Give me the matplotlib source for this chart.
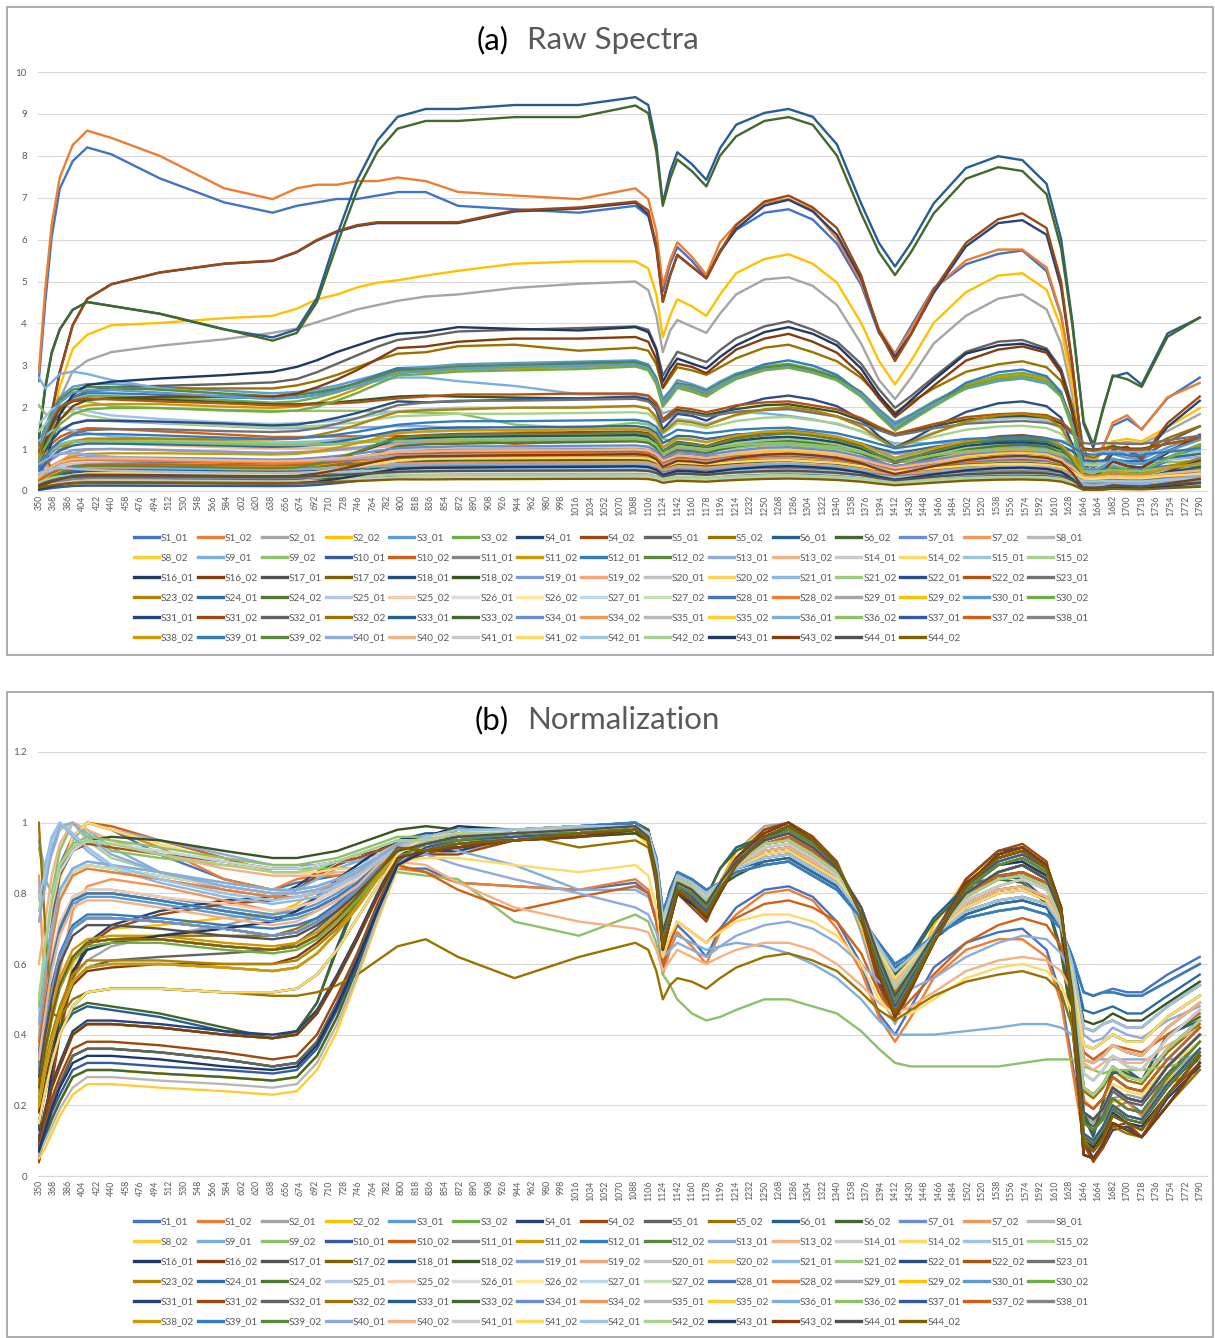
import matplotlib
matplotlib.use("Agg")
import matplotlib.pyplot as plt
from matplotlib.patches import Rectangle
from matplotlib.lines import Line2D

plt.rcParams['font.family'] = ['Lato', 'DejaVu Sans']

wavelengths = [350, 358, 366, 376, 392, 410, 440, 500, 580, 640, 670, 695, 720, 745, 770, 795,
               830, 870, 940, 1020, 1090, 1106, 1116, 1124, 1133, 1142, 1160, 1178, 1195, 1215,
               1250, 1280, 1310, 1340, 1370, 1392, 1412, 1432, 1460, 1500, 1540, 1570, 1600,
               1618, 1632, 1646, 1658, 1670, 1682, 1700, 1718, 1750, 1790]

names = [f"S{i}_{j:02d}" for i in range(1, 45) for j in (1, 2)]

# maximum of each raw spectrum (panel a)
peaks = [8.2, 8.6, 5.1, 5.65, 3.15, 3.1, 6.95, 7.05, 4.05, 3.6, 9.4, 9.2,
         1.35, 1.2, 0.85, 0.7, 2.85, 2.2, 1.0, 1.5, 0.55, 3.05, 3.15, 3.1,
         1.7, 1.2, 1.05, 0.8, 2.05, 1.9, 3.95, 3.75, 0.65, 0.5, 0.45, 2.3,
         1.25, 0.9, 0.6, 0.95, 1.5, 1.3, 2.3, 2.35, 2.2, 2.05, 1.55, 1.2,
         0.75, 0.55, 0.45, 0.4, 0.65, 0.5, 1.0, 0.85, 0.7, 0.6, 3.05, 3.0,
         1.35, 1.45, 0.9, 1.15, 0.8, 0.75, 1.1, 0.7, 0.5, 1.0, 0.65, 1.25,
         0.4, 0.95, 0.6, 1.5, 1.7, 1.4, 0.9, 1.0, 0.35, 0.8, 0.55, 0.4,
         0.6, 0.9, 0.5, 0.3]

# normalized spectra in percent of each series maximum (panel b)
norm = [
    [32,55,74,88,96,100,98,91,84,81,83,84,85,85,86,87, 87,83,82,81,83,80,72,58,66,71,67,62,70,76,81,82,79,72,60,46,40,48,59,66,69,70,64,51,32,12,8,13,19,21,18,27,33],
    [33,56,74,87,96,100,98,93,84,81,84,85,85,86,86,87, 86,83,82,81,84,81,72,57,64,69,65,60,69,74,80,81,78,70,58,45,38,45,56,64,67,67,62,49,30,10,7,12,19,21,17,26,30],
    [7,16,27,43,56,61,65,68,71,74,76,79,82,85,87,89, 91,92,95,97,98,94,82,65,75,80,77,74,83,92,99,100,96,87,69,52,43,53,69,82,90,92,85,69,45,17,15,18,22,23,22,28,36],
    [7,16,28,44,60,66,70,71,73,74,77,81,83,86,88,89, 91,93,96,97,97,94,83,65,74,81,78,74,83,92,98,100,96,88,71,55,45,55,71,84,91,92,85,69,44,16,13,17,21,22,21,27,35],
    [36,49,61,71,79,81,81,79,76,74,75,77,80,84,88,93, 94,96,97,98,99,96,86,70,76,84,81,77,83,89,94,96,92,86,75,62,52,58,68,80,85,86,83,74,53,21,19,22,28,25,24,33,42],
    [30,42,52,62,70,73,73,72,70,68,69,72,76,81,87,93, 93,95,96,97,99,96,85,67,74,82,79,75,82,89,96,98,94,88,75,60,48,56,67,82,89,91,87,75,50,12,10,14,20,17,16,26,36],
    [4,14,27,41,57,66,71,75,78,79,82,86,89,91,92,92, 92,92,96,97,99,95,83,65,74,81,77,73,82,90,98,100,96,88,73,55,46,54,68,84,92,93,88,70,43,10,5,8,13,14,11,22,31],
    [4,13,26,40,56,65,70,74,77,78,81,85,88,90,91,91, 91,91,95,96,98,95,83,64,73,80,76,72,81,90,98,100,96,89,73,54,44,53,68,84,92,94,89,71,43,9,4,8,14,15,11,23,32],
    [20,30,38,46,55,59,61,62,63,64,66,70,75,80,85,89, 91,94,95,96,97,95,84,68,75,82,79,76,83,90,97,100,95,88,75,60,49,56,67,82,88,89,84,72,50,16,14,17,24,21,20,29,38],
    [25,36,45,54,62,66,67,68,68,68,70,73,77,82,87,91, 92,96,97,93,95,93,84,68,75,82,80,77,82,88,95,97,92,86,75,63,52,59,68,79,84,86,82,73,56,24,22,25,30,27,26,35,43],
    [13,26,35,41,46,48,47,45,41,39,41,49,65,79,89,95, 97,97,98,98,100,98,88,73,81,86,83,79,87,93,96,97,95,88,73,63,57,63,73,82,85,84,78,64,43,17,11,21,29,30,27,40,44],
    [14,27,36,42,47,49,48,46,42,39,41,49,64,78,88,94, 96,96,97,97,100,98,88,74,81,86,83,79,87,92,96,97,95,87,72,62,56,62,72,81,84,83,77,63,43,18,12,21,30,29,27,40,45],
    [40,55,68,79,86,88,87,85,82,80,80,81,83,86,90,94, 95,97,97,98,99,97,88,72,78,85,83,79,83,88,92,93,89,85,75,64,55,61,68,77,81,82,79,72,57,33,32,34,37,35,34,42,49],
    [85,50,45,58,75,82,84,82,78,75,76,78,81,84,88,92, 96,97,98,99,99,97,88,72,78,85,83,80,83,87,91,92,88,84,74,64,56,61,68,76,80,81,78,71,58,37,36,38,40,38,38,45,51],
    [30,42,52,62,70,73,73,72,70,68,69,72,76,81,87,93, 96,98,98,99,99,97,89,73,79,85,83,80,83,87,90,91,87,83,74,65,58,62,68,75,78,79,77,71,60,42,41,43,44,42,42,48,54],
    [5,8,12,17,23,26,26,25,24,23,24,30,41,56,72,87, 93,95,96,97,99,96,85,67,74,82,79,75,82,89,96,98,94,88,75,60,48,56,67,82,89,91,87,75,50,12,10,14,20,17,16,26,36],
    [95,86,91,98,100,98,93,86,81,79,81,84,87,89,92,95, 95,92,88,81,81,79,74,65,67,68,66,64,65,66,65,63,60,56,50,44,40,40,40,41,42,43,43,42,40,35,33,33,33,33,33,33,34],
    [93,84,80,92,100,97,92,90,88,87,87,87,87,87,86,86, 85,84,72,68,74,72,66,57,54,50,46,44,45,47,50,50,48,46,41,36,32,31,31,31,31,32,33,33,33,31,30,29,30,30,30,31,33],
    [25,36,45,54,62,66,67,67,65,64,65,68,73,79,86,93, 94,95,97,97,99,96,85,68,75,82,80,76,82,89,95,98,94,87,75,61,50,57,67,81,88,90,86,74,51,15,13,16,22,19,18,28,38],
    [50,62,75,86,95,100,99,95,90,86,86,86,87,87,88,88, 86,81,75,79,82,80,72,60,66,72,69,66,70,73,77,78,76,72,63,52,45,50,57,66,71,73,71,65,53,35,33,35,37,36,35,40,46],
    [15,24,32,40,48,52,53,53,52,52,53,57,64,73,82,91, 95,97,97,98,99,96,87,70,77,84,82,78,83,88,94,95,91,86,75,63,53,59,68,79,84,85,82,73,55,25,23,26,31,28,27,36,44],
    [27,38,47,56,64,67,68,68,66,65,66,69,74,80,87,93, 93,95,96,97,99,96,85,67,74,82,79,75,82,89,96,98,94,88,75,60,48,56,67,82,89,91,87,75,50,12,10,14,20,17,16,26,36],
    [32,44,54,63,71,74,74,73,71,70,71,73,77,82,88,93, 92,94,95,97,98,95,84,65,73,81,78,74,81,88,96,99,95,88,74,58,46,54,66,82,90,92,87,75,49,9,7,11,17,15,13,23,34],
    [35,48,60,70,78,80,80,78,75,73,74,76,79,83,88,93, 94,96,97,98,99,96,86,69,76,83,81,77,83,89,95,97,93,87,76,62,51,58,68,80,86,88,84,74,52,18,16,19,25,22,21,31,40],
    [45,60,75,86,95,100,98,95,91,88,88,88,89,89,90,91, 91,88,84,80,76,74,69,62,64,66,64,62,65,68,71,72,70,66,60,55,52,53,56,62,66,68,67,63,56,40,38,39,42,40,39,44,48],
    [60,72,85,94,100,98,95,91,87,85,85,85,86,86,87,89, 88,83,76,72,70,69,64,58,61,64,62,60,62,64,66,66,64,60,54,49,46,48,52,58,61,62,61,58,52,32,30,32,34,32,32,37,42],
    [20,30,38,46,55,59,60,60,59,58,59,63,69,76,84,92, 94,96,97,98,99,96,86,69,76,83,81,77,83,89,95,97,93,87,76,62,51,58,68,80,86,88,84,74,52,18,16,19,25,22,21,31,40],
    [40,54,70,84,96,100,98,94,89,86,86,86,87,87,88,89, 90,90,88,86,88,85,76,62,68,72,69,66,69,72,74,74,72,68,60,50,45,46,50,56,59,60,58,54,46,22,19,22,26,24,23,31,38],
    [78,86,95,100,97,93,88,84,80,78,79,80,82,85,89,93, 95,97,97,98,99,96,87,70,77,84,82,78,83,88,94,95,91,86,75,63,53,59,68,79,84,85,82,73,55,25,23,26,31,28,27,36,44],
    [75,84,93,98,100,95,90,86,82,80,81,82,84,86,90,94, 95,97,97,98,99,97,88,72,78,85,83,79,83,88,92,93,89,85,75,64,55,61,68,77,81,82,79,72,57,33,32,34,37,35,34,42,49],
    [8,16,30,46,58,64,66,68,70,72,75,79,84,88,92,95, 96,99,98,97,99,96,85,66,74,80,77,74,81,88,96,99,95,88,74,58,46,55,67,83,88,89,85,72,48,10,8,12,18,15,14,23,34],
    [18,28,37,45,54,58,59,60,60,60,62,66,71,77,84,91, 92,95,97,97,98,95,84,66,74,81,79,75,82,90,97,100,95,88,74,59,47,55,67,83,90,92,88,75,49,11,9,13,19,16,15,25,35],
    [30,42,52,62,70,73,73,72,70,68,69,72,76,81,87,93, 96,97,98,99,99,97,88,72,78,85,83,80,83,87,91,92,88,84,74,64,56,61,68,76,80,81,78,71,58,37,36,38,40,38,38,45,51],
    [10,18,25,31,40,43,43,42,40,39,40,46,56,67,79,90, 94,96,97,98,99,96,86,69,76,83,81,77,83,89,95,97,93,87,76,62,51,58,68,80,86,88,84,74,52,18,16,19,25,22,21,31,40],
    [8,14,20,26,34,36,36,35,33,31,32,38,49,62,76,89, 92,93,95,96,98,95,84,64,72,80,78,73,80,88,96,99,95,88,74,57,45,53,66,82,91,93,88,76,48,6,5,9,15,13,11,20,32],
    [30,50,70,86,93,95,96,95,92,90,90,91,92,94,96,98, 99,98,97,96,97,95,88,72,78,84,82,79,82,85,89,90,86,82,73,65,58,62,67,74,77,78,76,70,60,44,43,44,46,44,44,49,55],
    [35,48,60,70,78,80,80,78,75,73,74,76,79,83,88,93, 95,97,98,98,99,97,87,71,77,84,82,79,83,88,93,94,90,85,75,63,54,60,68,78,82,84,81,73,56,29,27,30,34,31,30,39,47],
    [40,55,68,79,86,88,87,85,82,80,80,81,83,86,90,94, 94,96,97,98,99,96,86,69,76,83,81,77,83,89,95,97,93,87,76,62,51,58,68,80,86,88,84,74,52,18,16,19,25,22,21,31,40],
    [6,11,16,21,28,30,30,29,28,27,28,34,45,59,74,88, 95,97,97,98,99,96,87,70,77,84,82,78,83,88,94,95,91,86,75,63,53,59,68,79,84,85,82,73,55,25,23,26,31,28,27,36,44],
    [25,36,45,54,62,66,67,67,65,64,65,68,73,79,86,93, 95,97,97,98,99,97,88,72,78,85,83,79,83,88,92,93,89,85,75,64,55,61,68,77,81,82,79,72,57,33,32,34,37,35,34,42,49],
    [80,88,96,100,96,92,87,83,79,77,78,79,82,85,89,93, 94,96,97,98,99,96,86,69,76,83,81,77,83,89,95,97,93,87,76,62,51,58,68,80,86,88,84,74,52,18,16,19,25,22,21,31,40],
    [45,62,76,86,92,95,94,92,89,87,87,88,89,91,93,95, 95,97,97,98,99,96,87,70,77,84,82,78,83,88,94,95,91,86,75,63,53,59,68,79,84,85,82,73,55,25,23,26,31,28,27,36,44],
    [30,42,52,62,70,73,73,72,70,68,69,72,76,81,87,93, 92,93,95,96,98,95,84,64,72,80,78,73,80,88,96,99,95,88,74,57,45,53,66,82,91,93,88,76,48,6,5,9,15,13,11,20,32],
    [40,58,73,85,92,94,93,91,89,87,87,88,89,90,92,94, 96,98,98,99,99,97,89,73,79,85,83,80,83,87,90,91,87,83,74,65,58,62,68,75,78,79,77,71,60,42,41,43,44,42,42,48,54],
    [25,36,45,54,62,66,67,67,65,64,65,68,73,79,86,93, 96,98,98,99,100,97,90,75,80,86,84,81,83,86,88,89,85,81,73,66,60,63,68,73,75,76,74,70,62,52,51,52,52,51,51,55,60],
    [22,32,40,48,57,61,61,61,60,60,61,65,70,77,85,92, 94,95,97,97,99,96,85,68,75,82,80,76,82,89,95,98,94,87,75,61,50,57,67,81,88,90,86,74,51,15,13,16,22,19,18,28,38],
    [30,42,52,62,70,73,73,72,70,68,69,72,76,81,87,93, 96,98,98,99,100,97,89,74,79,85,84,80,83,87,89,90,86,82,73,65,59,62,68,74,77,78,76,70,61,47,46,47,48,46,46,51,57],
    [8,14,20,26,34,36,36,35,33,31,32,38,49,62,76,89, 93,94,96,97,99,96,85,66,74,81,79,75,82,89,96,99,95,88,75,59,47,55,67,82,90,92,88,76,50,11,9,13,19,16,15,25,35],
    [42,57,70,81,87,89,88,86,83,81,81,82,84,87,91,94, 95,97,97,98,99,97,88,72,78,85,83,79,83,88,92,93,89,85,75,64,55,61,68,77,81,82,79,72,57,33,32,34,37,35,34,42,49],
    [37,50,62,72,79,81,81,79,77,75,76,78,81,84,89,93, 95,97,97,98,99,96,87,70,77,84,82,78,83,88,94,95,91,86,75,63,53,59,68,79,84,85,82,73,55,25,23,26,31,28,27,36,44],
    [20,30,38,46,55,59,60,60,59,58,59,63,69,76,84,92, 96,98,98,99,99,97,89,73,79,85,83,80,83,87,90,91,87,83,74,65,58,62,68,75,78,79,77,71,60,42,41,43,44,42,42,48,54],
    [30,42,52,62,70,73,73,72,70,68,69,72,76,81,87,93, 94,96,97,98,99,96,86,70,76,84,81,77,83,89,94,96,92,86,75,62,52,58,68,80,85,86,83,74,53,21,19,22,28,25,24,33,42],
    [45,62,76,86,92,95,94,92,89,87,87,88,89,91,93,95, 95,97,97,98,99,97,88,72,78,85,83,79,83,88,92,93,89,85,75,64,55,61,68,77,81,82,79,72,57,33,32,34,37,35,34,42,49],
    [40,55,68,79,86,88,87,85,82,80,80,81,83,86,90,94, 95,97,98,98,99,97,87,71,77,84,82,79,83,88,93,94,90,85,75,63,54,60,68,78,82,84,81,73,56,29,27,30,34,31,30,39,47],
    [15,24,32,40,48,52,53,53,52,52,53,57,64,73,82,91, 96,98,98,99,100,97,90,75,80,86,84,81,83,86,88,89,85,81,73,66,60,63,68,73,75,76,74,70,62,52,51,52,53,52,52,57,62],
    [38,53,66,78,85,87,86,84,81,79,79,80,83,86,90,94, 94,96,97,98,99,96,86,69,76,83,81,77,83,89,95,97,93,87,76,62,51,58,68,80,86,88,84,74,52,18,16,19,25,22,21,31,40],
    [10,18,25,31,40,43,43,42,40,39,40,46,56,67,79,90, 96,98,98,99,100,97,90,75,80,86,84,81,83,86,88,89,85,81,73,66,60,63,68,73,75,76,74,70,62,52,51,52,52,51,51,55,60],
    [6,11,16,21,28,30,30,29,28,27,28,34,45,59,74,88, 92,93,95,96,98,95,84,64,72,80,78,73,80,88,96,99,95,88,74,57,45,53,66,82,91,93,88,76,48,6,5,9,15,13,11,20,32],
    [34,47,59,69,77,79,79,77,74,72,73,75,78,82,87,92, 94,96,97,98,99,96,86,69,76,83,81,77,83,89,95,97,93,87,76,62,51,58,68,80,86,88,84,74,52,18,16,19,25,22,21,31,40],
    [24,35,44,53,61,65,66,66,64,63,64,67,72,78,85,92, 93,95,96,97,99,96,85,67,74,82,79,75,82,89,96,98,94,88,75,60,48,56,67,82,89,91,87,75,50,12,10,14,20,17,16,26,36],
    [11,19,26,32,41,44,44,43,41,40,41,47,57,68,80,91, 94,96,97,98,99,96,86,70,76,84,81,77,83,89,94,96,92,86,75,62,52,58,68,80,85,86,83,74,53,21,19,22,28,25,24,33,42],
    [9,15,22,28,36,38,38,37,35,33,34,40,51,63,77,89, 92,94,95,97,98,95,84,65,73,81,78,74,81,88,96,99,95,88,74,58,46,54,66,82,90,92,87,75,49,9,7,11,17,15,13,23,34],
    [8,14,20,26,34,36,36,35,33,31,32,38,49,62,76,89, 95,97,97,98,99,96,87,70,77,84,82,78,83,88,94,95,91,86,75,63,53,59,68,79,84,85,82,73,55,25,23,26,31,28,27,36,44],
    [100,70,46,45,50,52,53,53,52,51,51,52,54,57,61,65, 67,62,56,62,66,64,58,50,54,56,55,53,56,59,62,63,61,58,52,47,44,47,51,55,57,58,56,52,42,10,7,10,14,12,11,20,30],
    [20,30,38,46,55,59,60,60,59,58,59,63,69,76,84,92, 95,97,97,98,99,97,88,72,78,85,83,79,83,88,92,93,89,85,75,64,55,61,68,77,81,82,79,72,57,33,32,34,37,35,34,42,49],
    [6,11,16,21,28,30,30,29,28,27,28,34,45,59,74,88, 94,96,97,98,99,96,86,69,76,83,81,77,83,89,95,97,93,87,76,62,51,58,68,80,86,88,84,74,52,18,16,19,25,22,21,31,40],
    [30,42,52,62,70,73,73,72,70,68,69,72,76,81,87,93, 95,97,97,98,99,96,87,70,77,84,82,78,83,88,94,95,91,86,75,63,53,59,68,79,84,85,82,73,55,25,23,26,31,28,27,36,44],
    [35,48,60,70,78,80,80,78,75,73,74,76,79,83,88,93, 95,97,97,98,99,97,88,72,78,85,83,79,83,88,92,93,89,85,75,64,55,61,68,77,81,82,79,72,57,33,32,34,37,35,34,42,49],
    [6,10,14,19,25,28,28,27,26,25,26,32,43,57,73,88, 95,97,98,98,99,97,87,71,77,84,82,79,83,88,93,94,90,85,75,63,54,60,68,78,82,84,81,73,56,29,27,30,34,31,30,39,47],
    [20,30,38,46,55,59,60,60,59,58,59,63,69,76,84,92, 93,95,96,97,99,96,85,67,74,82,79,75,82,89,96,98,94,88,75,60,48,56,67,82,89,91,87,75,50,12,10,14,20,17,16,26,36],
    [43,58,70,81,87,89,88,86,83,81,81,82,84,87,90,94, 94,96,97,98,99,96,86,69,76,83,81,77,83,89,95,97,93,87,76,62,51,58,68,80,86,88,84,74,52,18,16,19,25,22,21,31,40],
    [48,65,78,88,94,96,95,93,90,88,88,89,90,92,94,96, 96,97,98,99,99,97,88,72,78,85,83,80,83,87,91,92,88,84,74,64,56,61,68,76,80,81,78,71,58,37,36,38,40,38,38,45,51],
    [7,12,18,23,30,32,32,31,30,29,30,36,47,60,75,88, 93,95,96,97,99,96,85,67,74,82,79,75,82,89,96,98,94,88,75,60,48,56,67,82,89,91,87,75,50,12,10,14,20,17,16,26,36],
    [25,36,45,54,62,66,67,67,65,64,65,68,73,79,86,93, 94,96,97,98,99,96,86,70,76,84,81,77,83,89,94,96,92,86,75,62,52,58,68,80,85,86,83,74,53,21,19,22,28,25,24,33,42],
    [15,24,32,40,48,52,53,53,52,52,53,57,64,73,82,91, 96,98,98,99,99,97,89,73,79,85,83,80,83,87,90,91,87,83,74,65,58,62,68,75,78,79,77,71,60,42,41,43,44,42,42,48,54],
    [20,30,38,46,55,59,60,60,59,58,59,63,69,76,84,92, 95,97,97,98,99,96,87,70,77,84,82,78,83,88,94,95,91,86,75,63,53,59,68,79,84,85,82,73,55,25,23,26,31,28,27,36,44],
    [35,48,60,70,78,80,80,78,75,73,74,76,79,83,88,93, 96,98,98,99,100,97,90,75,80,86,84,81,83,86,88,89,85,81,73,66,60,63,68,73,75,76,74,70,62,52,51,52,52,51,51,55,60],
    [10,18,25,31,40,43,43,42,40,39,40,46,56,67,79,90, 94,95,97,97,99,96,85,68,75,82,80,76,82,89,95,98,94,87,75,61,50,57,67,81,88,90,86,74,51,15,13,16,22,19,18,28,38],
    [72,82,92,99,100,96,91,86,82,80,80,81,83,86,90,94, 94,96,97,98,99,96,86,69,76,83,81,77,83,89,95,97,93,87,76,62,51,58,68,80,86,88,84,74,52,18,16,19,25,22,21,31,40],
    [33,46,58,68,76,78,78,76,73,71,72,75,78,82,88,93, 95,97,97,98,99,97,88,72,78,85,83,79,83,88,92,93,89,85,75,64,55,61,68,77,81,82,79,72,57,33,32,34,37,35,34,42,49],
    [25,36,45,54,62,66,67,67,65,64,65,68,73,79,86,93, 95,97,98,98,99,97,87,71,77,84,82,79,83,88,93,94,90,85,75,63,54,60,68,78,82,84,81,73,56,29,27,30,34,31,30,39,47],
    [15,24,32,40,48,52,53,53,52,52,53,57,64,73,82,91, 96,97,98,99,99,97,88,72,78,85,83,80,83,87,91,92,88,84,74,64,56,61,68,76,80,81,78,71,58,37,36,38,40,38,38,45,51],
    [78,86,95,100,97,93,88,84,80,78,79,80,82,85,89,93, 96,98,98,99,99,97,89,73,79,85,83,80,83,87,90,91,87,83,74,65,58,62,68,75,78,79,77,71,60,42,41,43,44,42,42,48,54],
    [50,66,79,88,93,95,94,91,88,86,86,87,89,91,93,95, 95,97,97,98,99,96,87,70,77,84,82,78,83,88,94,95,91,86,75,63,53,59,68,79,84,85,82,73,55,25,23,26,31,28,27,36,44],
    [7,13,19,25,32,34,34,33,31,30,31,37,48,61,75,88, 92,93,95,96,98,95,84,64,72,80,78,73,80,88,96,99,95,88,74,57,45,53,66,82,91,93,88,76,48,6,5,9,15,13,11,20,32],
    [10,18,25,31,40,43,43,42,40,39,40,46,56,67,79,90, 92,93,95,96,98,95,84,64,72,80,78,73,80,88,96,99,95,88,74,57,45,53,66,82,91,93,88,76,48,6,5,9,15,13,11,20,32],
    [28,40,50,60,68,71,71,70,68,67,68,71,75,80,86,92, 94,96,97,98,99,96,86,69,76,83,81,77,83,89,95,97,93,87,76,62,51,58,68,80,86,88,84,74,52,18,16,19,25,22,21,31,40],
    [25,36,45,54,62,66,67,67,65,64,65,68,73,79,86,93, 92,94,95,97,98,95,84,65,73,81,78,74,81,88,96,99,95,88,74,58,46,54,66,82,90,92,87,75,49,9,7,11,17,15,13,23,34],
]

# Excel default series colours (cycle of 54)
palette = ['#4472C4', '#ED7D31', '#A5A5A5', '#FFC000', '#5B9BD5', '#70AD47',
           '#264478', '#9E480E', '#636363', '#997300', '#255E91', '#43682B',
           '#698ED0', '#F1975A', '#B7B7B7', '#FFCD33', '#7CAFDD', '#8CC168',
           '#335AA1', '#D26012', '#848484', '#CC9A00', '#327DC2', '#5A8A39',
           '#8FAADC', '#F4B183', '#C9C9C9', '#FFD966', '#9DC3E6', '#A9D18E',
           '#203864', '#843C0C', '#525252', '#7F6000', '#1F4E79', '#375623',
           '#7E9DD9', '#F3A578', '#C0C0C0', '#FFD34F', '#8AB9E2', '#9CCB7D',
           '#2C4D8A', '#B4530F', '#737373', '#B08400', '#2B6CA6', '#4F7A31',
           '#B4C7E7', '#F8CBAD', '#DBDBDB', '#FFE699', '#BDD7EE', '#C5E0B4']

xtick_labels = list(range(350, 1791, 18))

W, H = 1215, 1338
fig = plt.figure(figsize=(W / 100, H / 100), dpi=100)


def fx(px):
    return px / W


def fy(py):
    return 1 - py / H


# chart borders
for top, bot in [(7, 655), (692, 1337)]:
    fig.patches.append(Rectangle((fx(7), fy(bot)), fx(1213) - fx(7), fy(top) - fy(bot),
                                 transform=fig.transFigure, fill=False,
                                 edgecolor='#A6A6A6', lw=1.3))


def setup(ax, ymax, step, fmt):
    ax.set_xlim(349, 1799)
    ax.set_ylim(0, ymax)
    yt = [i * step for i in range(int(round(ymax / step)) + 1)]
    ax.set_yticks(yt)
    ax.set_yticklabels([fmt(v) for v in yt])
    ax.set_xticks(xtick_labels)
    ax.set_xticklabels([str(v) for v in xtick_labels], rotation=90)
    ax.tick_params(axis='y', length=0, labelsize=7, labelcolor='#595959', pad=8)
    ax.tick_params(axis='x', length=0, labelsize=6.3, labelcolor='#595959', pad=3)
    ax.grid(axis='y', color='#D9D9D9', lw=0.8)
    ax.set_axisbelow(True)
    for s in ['top', 'right', 'left']:
        ax.spines[s].set_visible(False)
    ax.spines['bottom'].set_color('#D9D9D9')


def add_legend(top_px):
    handles = [Line2D([], [], color=palette[i % 54], lw=2.4) for i in range(len(names))]
    # Excel fills the legend row by row, matplotlib column by column
    order = [r * 15 + c for c in range(15) for r in range(6) if r * 15 + c < len(names)]
    fig.legend([handles[i] for i in order], [names[i] for i in order], ncol=15,
               loc='upper left', bbox_to_anchor=(fx(134), fy(top_px)),
               frameon=False, fontsize=7.2, handlelength=2.5, handletextpad=0.2,
               columnspacing=0.35, labelspacing=1.1, borderpad=0, borderaxespad=0,
               labelcolor='#595959')


def add_title(y_px, tag, text):
    fig.text(fx(509), fy(y_px), tag, ha='right', va='baseline', fontsize=22.5, color='black')
    fig.text(fx(527), fy(y_px), text, ha='left', va='baseline', fontsize=22.5, color='#595959')


# (a) raw spectra
ax_a = fig.add_axes([fx(38), fy(491), fx(1207) - fx(38), fy(72) - fy(491)])
setup(ax_a, 10, 1, lambda v: f"{v:g}")
for i, row in enumerate(norm):
    ax_a.plot(wavelengths, [v / 100 * peaks[i] for v in row], color=palette[i % 54], lw=1.7)
add_title(49, "(a)", "Raw Spectra")
add_legend(533)

# (b) normalization
ax_b = fig.add_axes([fx(38), fy(1176), fx(1207) - fx(38), fy(752) - fy(1176)])
setup(ax_b, 1.2, 0.2, lambda v: f"{v:.1f}".rstrip('0').rstrip('.') if v else "0")
for i, row in enumerate(norm):
    ax_b.plot(wavelengths, [v / 100 for v in row], color=palette[i % 54], lw=1.7)
add_title(729, "(b)", "Normalization")
add_legend(1217)

fig.savefig("out.png", dpi=100)
